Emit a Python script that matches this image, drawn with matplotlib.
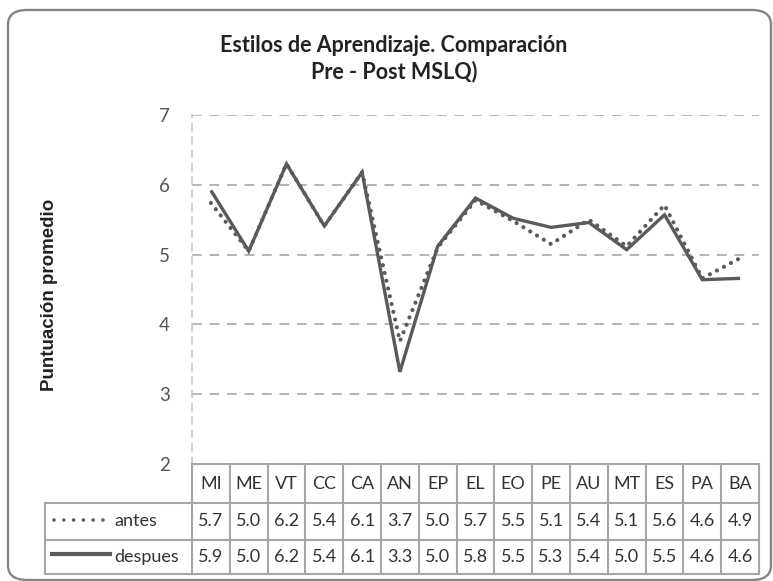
import matplotlib
matplotlib.use("Agg")
import matplotlib.pyplot as plt
from matplotlib.patches import FancyBboxPatch
from matplotlib.lines import Line2D

categories = ["MI", "ME", "VT", "CC", "CA", "AN", "EP", "EL", "EO", "PE", "AU", "MT", "ES", "PA", "BA"]
# values as drawn by the lines
antes = [5.74, 5.05, 6.30, 5.41, 6.18, 3.76, 5.10, 5.78, 5.48, 5.15, 5.50, 5.12, 5.71, 4.66, 4.95]
despues = [5.92, 5.05, 6.30, 5.41, 6.18, 3.32, 5.12, 5.81, 5.52, 5.39, 5.46, 5.07, 5.57, 4.64, 4.66]
# values as printed in the data table
antes_table = ["5.7", "5.0", "6.2", "5.4", "6.1", "3.7", "5.0", "5.7", "5.5", "5.1", "5.4", "5.1", "5.6", "4.6", "4.9"]
despues_table = ["5.9", "5.0", "6.2", "5.4", "6.1", "3.3", "5.0", "5.8", "5.5", "5.3", "5.4", "5.0", "5.5", "4.6", "4.6"]
yticks = [2, 3, 4, 5, 6, 7]

FONT = "Lato"
LINE_C = "#5a5a5a"
TEXT_C = "#333333"
GRID_C = "#b4b4b4"
BORDER_C = "#a6a6a6"
DOTS = (0, (0.01, 1.9))

W, H = 773, 581
fig = plt.figure(figsize=(W / 100, H / 100), dpi=100)

# outer rounded frame (pixel box: left 8, top 10, right 771, bottom 580)
frame = FancyBboxPatch((8 / W, (H - 580) / H), (771 - 8) / W, (580 - 10) / H,
                       boxstyle="round,pad=0,rounding_size=0.025",
                       transform=fig.transFigure, fill=False,
                       edgecolor="#858585", linewidth=1.7)
fig.patches.append(frame)

ax_l, ax_r, ax_t, ax_b = 192, 759, 115, 464
ax = fig.add_axes([ax_l / W, 1 - ax_b / H, (ax_r - ax_l) / W, (ax_b - ax_t) / H])
n = len(categories)
x = list(range(n))
ax.set_xlim(-0.5, n - 0.5)
ax.set_ylim(2, 7)

for yv in yticks[1:]:
    ax.axhline(yv, color=GRID_C, linewidth=1.4, linestyle=(0, (5, 4)), zorder=1)
for s in ["top", "right", "bottom"]:
    ax.spines[s].set_visible(False)
ax.spines["left"].set_color("#c8c8c8")
ax.spines["left"].set_linestyle((0, (4, 4)))
ax.spines["left"].set_linewidth(1.2)

ax.plot(x, antes, color=LINE_C, linewidth=3.0, linestyle=DOTS,
        dash_capstyle="round", zorder=3)
ax.plot(x, despues, color=LINE_C, linewidth=2.4, solid_capstyle="butt",
        solid_joinstyle="miter", zorder=4)

ax.set_yticks(yticks)
ax.set_yticklabels([str(v) for v in yticks], fontsize=13.5, color="#555555", family=FONT)
ax.tick_params(axis="y", direction="in", length=5, color="#c0c0c0", pad=16)
ax.set_xticks([])

fig.text(50 / W, 1 - 295 / H, "Puntuación promedio", rotation=90, ha="center", va="center",
         fontsize=13.5, fontweight="bold", family="Liberation Sans", color="#222222")

fig.text(394 / W, 1 - 46 / H, "Estilos de Aprendizaje. Comparación", ha="center", va="center",
         fontsize=15.5, fontweight="bold", family=FONT, color="#222222")
fig.text(394 / W, 1 - 72 / H, "Pre - Post MSLQ)", ha="center", va="center",
         fontsize=15.5, fontweight="bold", family=FONT, color="#222222")

# ---- data table below the axes ----
axh = ax_b - ax_t
def fy(py):
    return -(py - ax_b) / axh

def fx(px):
    return (px - ax_l) / (ax_r - ax_l)

tr = ax.get_xaxis_transform()  # x data, y axes
tra = ax.transAxes
y_hdr_top, y_r1, y_r2, y_bot = fy(464), fy(502.5), fy(539.5), fy(573.5)
leg_left = fx(45)

def hline(y, x0, x1, transform):
    ax.add_line(Line2D([x0, x1], [y, y], transform=transform, color=BORDER_C,
                       linewidth=1.5, clip_on=False, zorder=5))

def vline(xv, y0, y1, transform):
    ax.add_line(Line2D([xv, xv], [y0, y1], transform=transform, color=BORDER_C,
                       linewidth=1.5, clip_on=False, zorder=5))

hline(y_hdr_top, -0.5, n - 0.5, tr)
hline(y_r1, leg_left, 1, tra)
hline(y_r2, leg_left, 1, tra)
hline(y_bot, leg_left, 1, tra)
for i in range(n + 1):
    vline(i - 0.5, y_hdr_top, y_bot, tr)
vline(leg_left, y_r1, y_bot, tra)

cy_hdr = fy(484)
cy_1 = fy(521)
cy_2 = fy(557)
for i, c in enumerate(categories):
    ax.text(i, cy_hdr, c, transform=tr, ha="center", va="center", fontsize=13,
            family=FONT, color=TEXT_C, clip_on=False)
    ax.text(i, cy_1, antes_table[i], transform=tr, ha="center", va="center", fontsize=13,
            family=FONT, color=TEXT_C, clip_on=False)
    ax.text(i, cy_2, despues_table[i], transform=tr, ha="center", va="center", fontsize=13,
            family=FONT, color=TEXT_C, clip_on=False)

ax.add_line(Line2D([fx(54), fx(106)], [fy(520), fy(520)], transform=tra, color=LINE_C,
                   linewidth=2.6, linestyle=(0, (0.01, 2.7)), dash_capstyle="round",
                   clip_on=False, zorder=6))
ax.add_line(Line2D([fx(52), fx(110)], [fy(554), fy(554)], transform=tra, color=LINE_C,
                   linewidth=3.0, clip_on=False, zorder=6))
ax.text(fx(114), cy_1, "antes", transform=tra, ha="left", va="center", fontsize=13,
        family=FONT, color=TEXT_C, clip_on=False)
ax.text(fx(114), cy_2, "despues", transform=tra, ha="left", va="center", fontsize=13,
        family=FONT, color=TEXT_C, clip_on=False)

fig.savefig("out.png", dpi=100)
